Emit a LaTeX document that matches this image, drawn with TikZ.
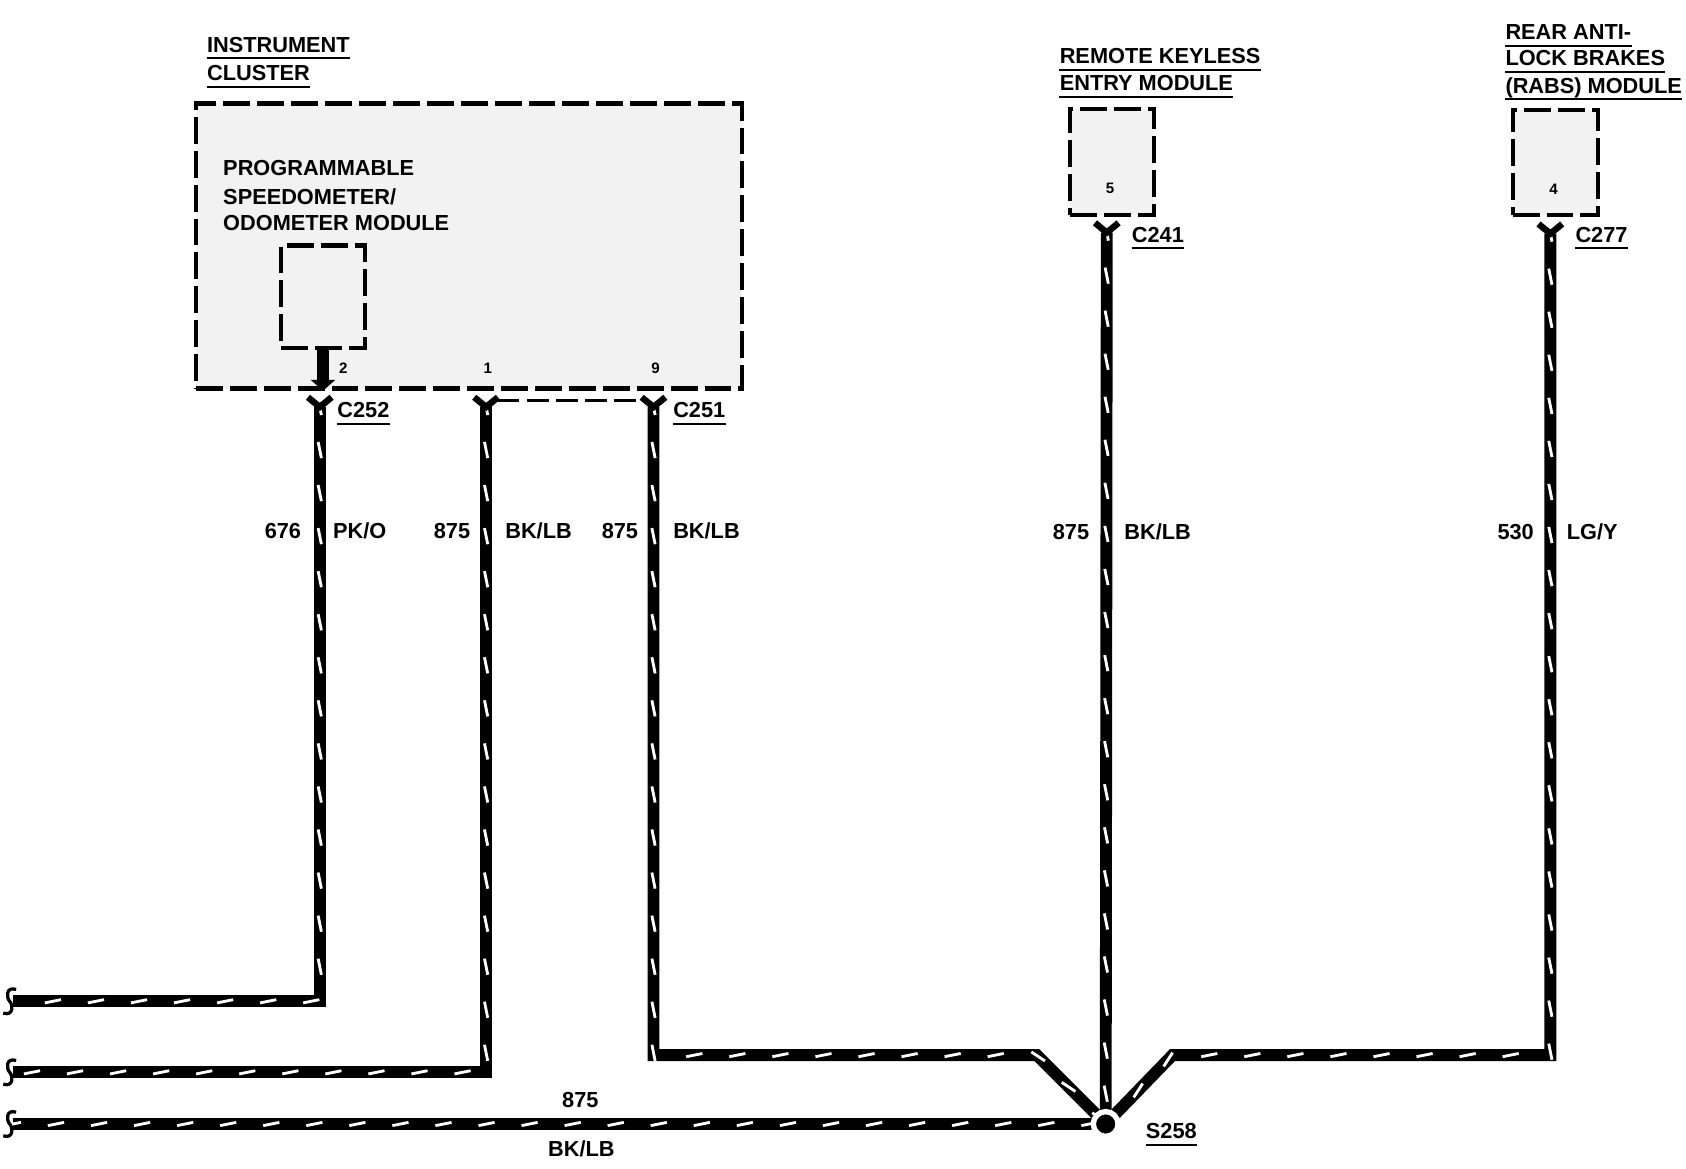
\documentclass[tikz,border=0pt]{standalone}
\usepackage{fontspec}
\setmainfont{Liberation Sans}
\usetikzlibrary{arrows.meta,calc,decorations.markings}

\tikzset{
  module/.style={draw, line width=0.08cm, dash pattern=on 0.5cm off 0.13cm, fill=black!5, inner sep=0pt},
  wire/.style={line width=0.22cm, postaction={decorate, decoration={markings,
      mark=between positions 0 and 1 step 0.8cm with {\draw[white, line width=1.5pt] (-0.15cm,-0.03cm) -- (0.15cm,0.03cm);}}}},
  fork/.style={line width=0.12cm},
  tag/.style={font=\bfseries\fontsize{11.5}{13}\selectfont, inner xsep=0pt, inner ysep=3pt, text height=8pt, text depth=0pt},
  pinno/.style={font=\bfseries\fontsize{8}{9}\selectfont, inner sep=0pt},
  uline/.style={line width=1pt},
  brk/.style={line width=0.06cm},
  splice/.style={circle, fill=black, draw=white, line width=0.1cm, minimum size=0.46cm, inner sep=0pt},
  pinarrow/.style={line width=0.24cm, -{Triangle[width=0.44cm,length=0.2cm]}},
  conndash/.style={line width=0.05cm, dash pattern=on 0.4cm off 0.14cm}
}

\begin{document}
\begin{tikzpicture}[x=0.02cm, y=-0.02cm]
        \useasboundingbox (0,0) rectangle (1566,1085);

        % Modules
        \node[module, anchor=north west, minimum width=10.14cm, minimum height=5.3cm] (cluster) at (180,94) {};
        \node[module, anchor=north west, minimum width=1.56cm, minimum height=1.9cm] (speedo) at (259,226) {};
        \node[module, anchor=north west, minimum width=1.56cm, minimum height=1.97cm] (rke) at (992,99) {};
        \node[module, anchor=north west, minimum width=1.58cm, minimum height=1.96cm] (rabs) at (1403,100) {};

        % Module titles
        \node[tag, anchor=west] (ic1) at (192,41.5) {INSTRUMENT};
        \node[tag, anchor=west] (ic2) at (192,68) {CLUSTER};
        \node[tag, anchor=west] (rk1) at (984,52) {REMOTE KEYLESS};
        \node[tag, anchor=west] (rk2) at (984,77.4) {ENTRY MODULE};
        \node[tag, anchor=west] (ra1) at (1398,30) {REAR ANTI-};
        \node[tag, anchor=west] (ra2) at (1398,54) {LOCK BRAKES};
        \node[tag, anchor=west] (ra3) at (1398,79.6) {(RABS) MODULE};
        \node[tag, anchor=west] (sp1) at (207,156) {PROGRAMMABLE};
        \node[tag, anchor=west] (sp2) at (207,182.5) {SPEEDOMETER/};
        \node[tag, anchor=west] (sp3) at (207,207.5) {ODOMETER MODULE};

        % Pin numbers
        \node[pinno] (p2) at (319,342) {2};
        \node[pinno] (p1) at (453,342) {1};
        \node[pinno] (p9) at (609,342) {9};
        \node[pinno] (p5) at (1031,175) {5};
        \node[pinno] (p4) at (1443,176) {4};

        \draw[pinarrow] (speedo.south) -- (speedo.south |- cluster.south);

        % Connectors, splice and wire ends
        \coordinate (c252) at (297,378);
        \coordinate (c251a) at (451.5,378);
        \coordinate (c251) at (607,378);
        \coordinate (c241) at (1028,216);
        \coordinate (c277) at (1440,217);
        \coordinate (s258) at (1027,1044);
        \coordinate (b676) at (12,930);
        \coordinate (b875) at (12,996);
        \coordinate (bbot) at (12,1044);
        \coordinate (k1) at (963,980);
        \coordinate (k2) at (1089,980);

        % Wires
        \draw[wire] (c252) |- (b676);
        \draw[wire] (c251a) |- (b875);
        \draw[wire] (c251) |- (k1) -- (s258);
        \draw[wire] (c241) -- (s258);
        \draw[wire] (c277) |- (k2) -- (s258);
        \draw[wire] (bbot) -- (s258);
        \node[splice] (s258dot) at (s258) {};

        \foreach \c in {c252,c251a,c251,c241,c277}
          \draw[fork] ($(\c)+(-11,-9)$) -- (\c) -- ($(\c)+(11,-9)$);
        \draw[conndash] ($(c251a)+(11,-6)$) -- ($(c251)+(-10,-6)$);

        \foreach \b in {b676,b875,bbot}
          \draw[brk] ($(\b)+(3,-11)$) .. controls ($(\b)+(-7,-14)$) and ($(\b)+(-6,-3)$) .. ($(\b)+(-3,0)$)
                     .. controls ($(\b)+(0,3)$) and ($(\b)+(1,14)$) .. ($(\b)+(-9,11)$);

        % Connector and splice labels
        \node[tag, anchor=west] (t252) at (313,381) {C252};
        \node[tag, anchor=west] (t251) at (625,381) {C251};
        \node[tag, anchor=west] (t241) at (1051,218) {C241};
        \node[tag, anchor=west] (t277) at (1463,218) {C277};
        \node[tag, anchor=west] (t258) at (1064,1050.6) {S258};

        \foreach \n in {ic1,ic2,rk1,rk2,ra1,ra2,ra3,t252,t251,t241,t277,t258}
          \draw[uline] (\n.south west) -- (\n.south east);

        % Circuit numbers and colours
        \node[tag, inner ysep=0pt, anchor=east] (n676) at (280,493) {676};
        \node[tag, inner ysep=0pt, anchor=west] (k676) at (309,493) {PK/O};
        \node[tag, inner ysep=0pt, anchor=east] (n875a) at (437,493) {875};
        \node[tag, inner ysep=0pt, anchor=west] (k875a) at (469,493) {BK/LB};
        \node[tag, inner ysep=0pt, anchor=east] (n875b) at (593,493) {875};
        \node[tag, inner ysep=0pt, anchor=west] (k875b) at (625,493) {BK/LB};
        \node[tag, inner ysep=0pt, anchor=east] (n875c) at (1012,494) {875};
        \node[tag, inner ysep=0pt, anchor=west] (k875c) at (1044,494) {BK/LB};
        \node[tag, inner ysep=0pt, anchor=east] (n530) at (1425,494) {530};
        \node[tag, inner ysep=0pt, anchor=west] (k530) at (1455,494) {LG/Y};
        \node[tag, inner ysep=0pt] (n875d) at (539,1022) {875};
        \node[tag, inner ysep=0pt] (k875d) at (540,1067) {BK/LB};
\end{tikzpicture}
\end{document}
